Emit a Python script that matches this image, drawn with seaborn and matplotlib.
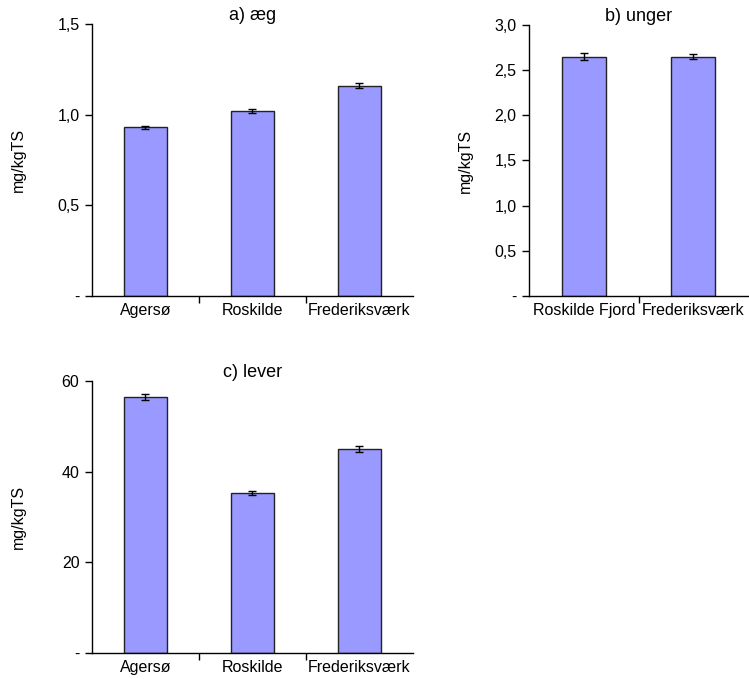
import matplotlib
matplotlib.use("Agg")
import matplotlib.pyplot as plt
import seaborn as sns
import pandas as pd
from matplotlib.ticker import FixedLocator, FuncFormatter
from matplotlib.transforms import offset_copy

sns.set_theme(style="white")
plt.rcParams['font.family'] = ['Liberation Sans', 'DejaVu Sans']

cats_a = ["Agersø", "Roskilde", "Frederiksværk"]
vals_a = [0.93, 1.02, 1.16]
errs_a = [0.010, 0.010, 0.012]

cats_b = ["Roskilde Fjord", "Frederiksværk"]
vals_b = [2.65, 2.65]
errs_b = [0.035, 0.030]

cats_c = ["Agersø", "Roskilde", "Frederiksværk"]
vals_c = [56.5, 35.3, 45.0]
errs_c = [0.7, 0.5, 0.6]

bar_color = "#9999FF"
edge = "#222222"

fig = plt.figure(figsize=(7.49, 6.79), dpi=100)
ax_a = fig.add_axes([0.1228, 0.5641, 0.4286, 0.4006])
ax_b = fig.add_axes([0.7063, 0.5641, 0.2924, 0.3991])
ax_c = fig.add_axes([0.1228, 0.0383, 0.4286, 0.4006])


def fmt_dec(v, pos):
    if abs(v) < 1e-9:
        return "-"
    return f"{v:.1f}".replace(".", ",")


def fmt_int(v, pos):
    if abs(v) < 1e-9:
        return "-"
    return f"{v:.0f}"


def draw(ax, cats, vals, errs, title, ymax, ystep, formatter, ylab_x):
    df = pd.DataFrame({"cat": cats, "val": vals})
    sns.barplot(data=df, x="cat", y="val", color=bar_color, edgecolor=edge,
                linewidth=1.0, width=0.4, saturation=1, ax=ax, errorbar=None)
    ax.errorbar(range(len(cats)), vals, yerr=errs, fmt="none", ecolor="black",
                elinewidth=1.0, capsize=3, capthick=1.0)
    n = len(cats)
    ax.set_xlim(-0.5, n - 0.5)
    ax.set_ylim(0, ymax)
    ticks = [i * ystep for i in range(int(round(ymax / ystep)) + 1)]
    ax.yaxis.set_major_locator(FixedLocator(ticks))
    ax.yaxis.set_major_formatter(FuncFormatter(formatter))
    ax.set_xticks([i + 0.5 for i in range(n - 1)])
    ax.set_xticklabels([])
    ax.set_xticks(list(range(n)), minor=True)
    ax.set_xticklabels(cats, minor=True)
    ax.tick_params(axis="x", which="major", direction="out", length=5, width=1.0,
                   color="black", bottom=True)
    ax.tick_params(axis="x", which="minor", length=0, pad=5, labelsize=11.5,
                   labelcolor="black")
    ax.tick_params(axis="y", direction="out", length=5, width=1.0, color="black",
                   left=True, labelsize=11.5, labelcolor="black", pad=4)
    for s in ["top", "right"]:
        ax.spines[s].set_visible(False)
    for s in ["left", "bottom"]:
        ax.spines[s].set_color("black")
        ax.spines[s].set_linewidth(1.0)
    ax.set_xlabel("")
    ax.set_ylabel("mg/kgTS", fontsize=11.5, color="black")
    ax.yaxis.set_label_coords(ylab_x, 0.5)
    tr = offset_copy(ax.transAxes, fig=ax.figure, x=0, y=8, units="dots")
    ax.text(0.5, 1.0, title, transform=tr, ha="center", va="center",
            fontsize=13, color="black")


draw(ax_a, cats_a, vals_a, errs_a, "a) æg", 1.5, 0.5, fmt_dec, -0.205)
draw(ax_b, cats_b, vals_b, errs_b, "b) unger", 3.0, 0.5, fmt_dec, -0.256)
draw(ax_c, cats_c, vals_c, errs_c, "c) lever", 60, 20, fmt_int, -0.205)

fig.savefig("out.png", dpi=100)
